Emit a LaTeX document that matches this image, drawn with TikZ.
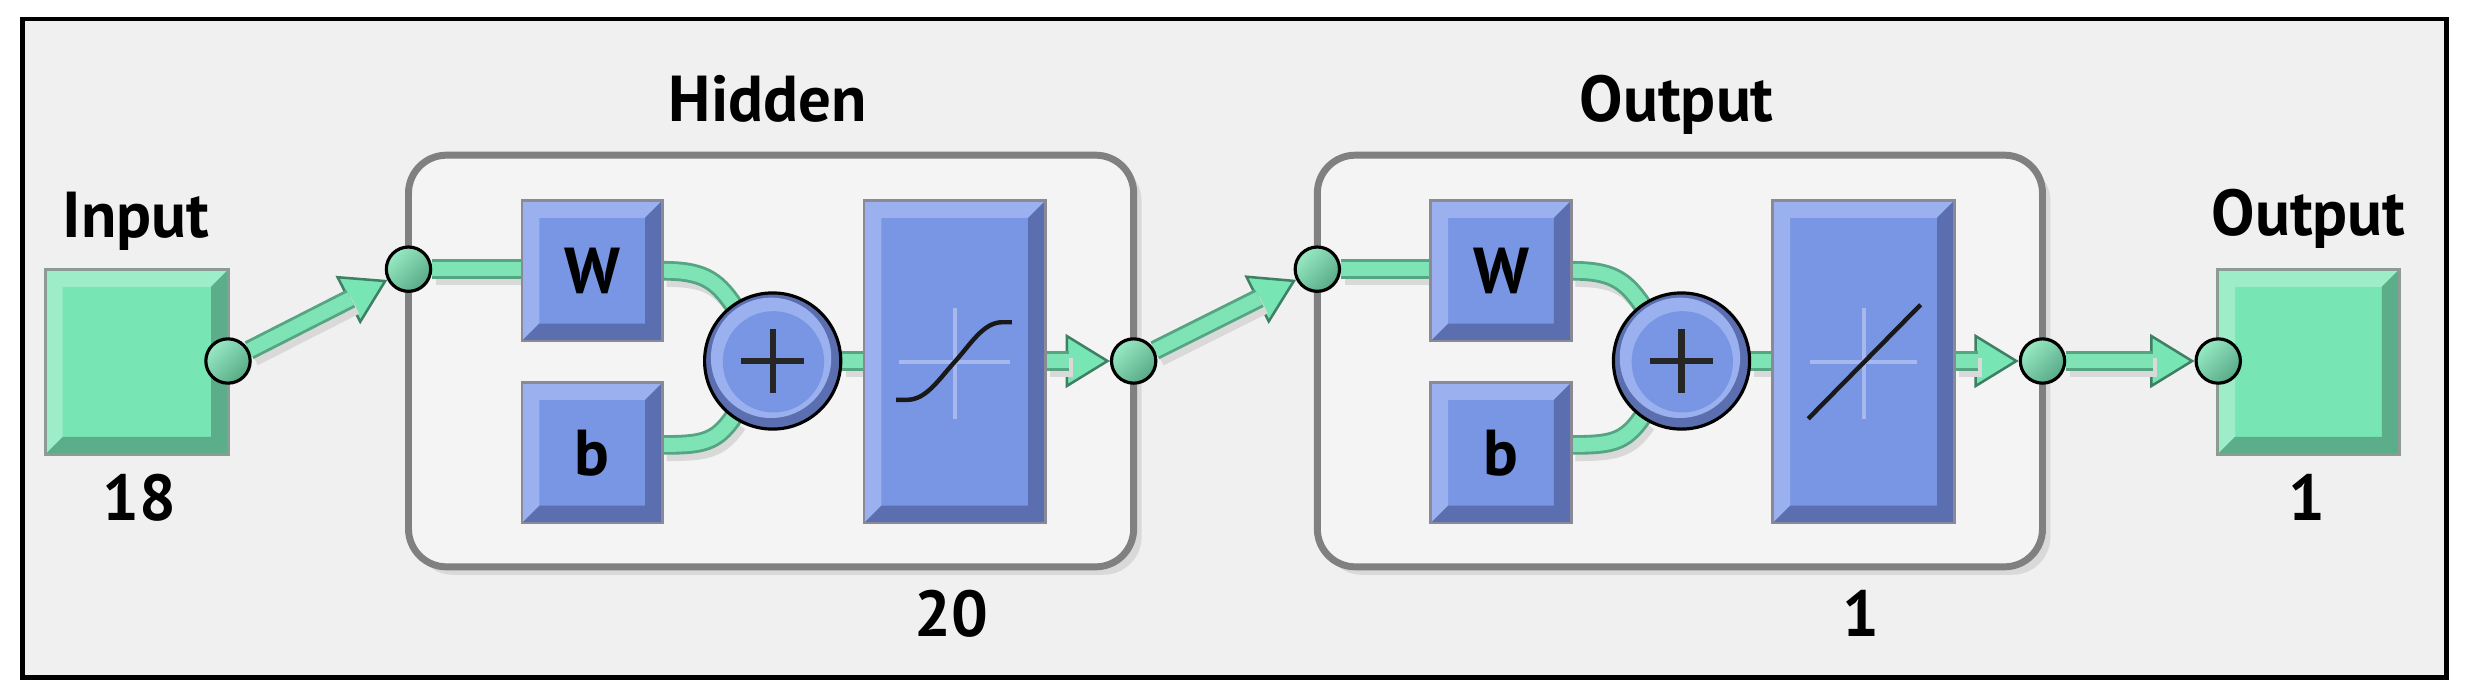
\documentclass[tikz,border=0pt]{standalone}
\usepackage{fontspec}
\setmainfont{PT Sans}
\usetikzlibrary{calc,arrows.meta,shapes.geometric}
\definecolor{bgc}{HTML}{F0F0F0}
\definecolor{layfill}{HTML}{F4F4F4}
\definecolor{layedge}{HTML}{808080}
\definecolor{gbase}{HTML}{78E5B4}
\definecolor{glight}{HTML}{9DEDC8}
\definecolor{gdark}{HTML}{5CAD89}
\definecolor{gedge}{HTML}{8C9C94}
\definecolor{bbase}{HTML}{7896E3}
\definecolor{blight}{HTML}{9BB0EE}
\definecolor{bdark}{HTML}{5B6FB0}
\definecolor{bedge}{HTML}{8A8A96}
\definecolor{bcross}{HTML}{A6B8EE}
\definecolor{wlightc}{HTML}{7EE3B5}
\definecolor{wdarkc}{HTML}{55A482}
\definecolor{tipedge}{HTML}{3F7F63}
\definecolor{portlight}{HTML}{98EAC5}
\definecolor{portdark}{HTML}{58AA86}
\pgfdeclarelayer{back}
\pgfdeclarelayer{bg}
\pgfdeclarelayer{wires}
\pgfsetlayers{back,bg,wires,main}

\newcommand\bevbox[8]{%
  \node[inner sep=0, minimum width=#4*0.5pt, minimum height=#5*0.5pt] (#1) at (#2,#3) {};
  \fill[#6base] (#1.north west) rectangle (#1.south east);
  \fill[#6light] (#1.north west) -- (#1.north east) -- ($(#1.north east)+(-#7,#7)$) -- ($(#1.north west)+(#7,#7)$) -- ($(#1.south west)+(#7,-#7)$) -- (#1.south west) -- cycle;
  \fill[#6dark] (#1.north east) -- (#1.south east) -- (#1.south west) -- ($(#1.south west)+(#7,-#7)$) -- ($(#1.south east)+(-#7,-#7)$) -- ($(#1.north east)+(-#7,#7)$) -- cycle;
  \draw[#6edge, line width=0.8pt] (#1.north west) rectangle (#1.south east);
  \node[lbl] (#1-t) at (#1.center) {#8};
}
\newcommand\sumnode[3]{%
  \node[circle, inner sep=0, minimum size=43pt] (#1) at (#2,#3) {};
  \fill[bdark] (#1.center) circle (21.5pt);
  \fill[blight] ($(#1.center)+(-1,-2)$) circle (19pt);
  \fill[bbase] ($(#1.center)+(0.5,0.5)$) circle (16pt);
  \draw[black, line width=1pt] (#1.center) circle (21.5pt);
  \draw[black!85, line width=2pt] ($(#1.center)+(-20,0)$) -- ($(#1.center)+(20,0)$);
  \draw[black!85, line width=2pt] ($(#1.center)+(0,-20)$) -- ($(#1.center)+(0,20)$);
}
\newcommand\wire[1]{%
  \draw[wshadow] #1;
  \draw[wdark] #1;
  \draw[wlight] #1;}
\newcommand\awire[1]{%
  \draw[wtip] #1;
  \draw[wshadow, shorten >=13pt] #1;
  \draw[wdark, shorten >=13pt] #1;
  \draw[wlight, shorten >=13pt] #1;}

\tikzset{
  lbl/.style={font=\bfseries\fontsize{20.5pt}{24pt}\selectfont, inner sep=0},
  frame/.style={draw=layedge, line width=2.2pt, fill=layfill, rounded corners=12pt, inner sep=0},
  frameshadow/.style={fill=black!15, rounded corners=12pt},
  port/.style={circle, inner sep=0, minimum size=14pt, draw=black, line width=1pt,
    top color=portlight, bottom color=portdark, shading angle=45},
  wshadow/.style={draw=black!15, line width=6.2pt, transform canvas={xshift=1.3pt,yshift=-2pt}},
  wdark/.style={draw=wdarkc, line width=6.2pt},
  wlight/.style={draw=wlightc, line width=4.4pt},
  wtip/.style={draw=tipedge, line width=0.8pt, -{Triangle[length=14pt,width=17pt,fill=gbase]}},
  crossl/.style={draw=bcross, line width=1.3pt},
  tfline/.style={draw=black!90, line width=1.4pt}
}

\begin{document}
\begin{tikzpicture}[x=0.5pt,y=-0.5pt]
\useasboundingbox (0,0) rectangle (1560,440.8);
\begin{pgfonlayer}{back}
  \fill[white] (0,0) rectangle (1560,440.8);
  \draw[fill=bgc, line width=1.5pt] (14,12) rectangle (1545,428);
\end{pgfonlayer}

% layer frames
\begin{pgfonlayer}{bg}
  \fill[frameshadow] (262,103) rectangle (721,363);
  \node[frame, minimum width=229pt, minimum height=130pt] (L1) at (487,228) {};
  \fill[frameshadow] (836,103) rectangle (1295,363);
  \node[frame, minimum width=229pt, minimum height=130pt] (L2) at (1061,228) {};
\end{pgfonlayer}

% input / output boxes
\bevbox{inB}{86.5}{228.5}{115}{116}{g}{11}{}
\bevbox{outB}{1458}{228.5}{114}{116}{g}{11}{}

% hidden layer
\bevbox{W1}{374}{171}{88}{88}{b}{11}{W}
\bevbox{b1}{374}{286}{88}{88}{b}{11}{b}
\sumnode{sum1}{488}{228}
\bevbox{tf1}{603}{228.5}{114}{203}{b}{11}{}
\draw[crossl] ($(tf1.center)+(-35,0)$) -- ($(tf1.center)+(35,0)$);
\draw[crossl] ($(tf1.center)+(0,-34)$) -- ($(tf1.center)+(0,36)$);
\draw[tfline, shift={(tf1.center)}] (-37,24) -- (-30,24) .. controls (-18,24) and (-10,11) .. (0,0) .. controls (10,-11) and (18,-25) .. (30,-25) -- (36,-25);

% output layer
\bevbox{W2}{948}{171}{88}{88}{b}{11}{W}
\bevbox{b2}{948}{286}{88}{88}{b}{11}{b}
\sumnode{sum2}{1062}{228}
\bevbox{tf2}{1177}{228.5}{114}{203}{b}{11}{}
\draw[crossl] ($(tf2.center)+(-34,0)$) -- ($(tf2.center)+(34,0)$);
\draw[crossl] ($(tf2.center)+(0,-34)$) -- ($(tf2.center)+(0,36)$);
\draw[tfline] ($(tf2.center)+(-35,36)$) -- ($(tf2.center)+(36,-36)$);

% ports
\node[port] (inP) at (144,228) {};
\node[port] (hIn) at (258,170) {};
\node[port] (hOut) at (716,228) {};
\node[port] (oIn) at (832,170) {};
\node[port] (oOut) at (1290,228) {};
\node[port] (outP) at (1401,228) {};

% wires
\begin{pgfonlayer}{wires}
  \awire{(inP) -- (hIn)}
  \wire{(hIn) -- (hIn -| W1.west)}
  \wire{(W1.east) .. controls +(25,0) and +(-11,-16) .. (sum1.125)}
  \wire{($(b1.east)+(0,-5)$) .. controls +(25,0) and +(-11,16) .. (sum1.235)}
  \wire{(sum1) -- (sum1 -| tf1.west)}
  \awire{(tf1.east |- hOut) -- (hOut)}
  \awire{(hOut) -- (oIn)}
  \wire{(oIn) -- (oIn -| W2.west)}
  \wire{(W2.east) .. controls +(25,0) and +(-11,-16) .. (sum2.125)}
  \wire{($(b2.east)+(0,-5)$) .. controls +(25,0) and +(-11,16) .. (sum2.235)}
  \wire{(sum2) -- (sum2 -| tf2.west)}
  \awire{(tf2.east |- oOut) -- (oOut)}
  \awire{(oOut) -- (outP)}
\end{pgfonlayer}

% labels
\node[lbl, anchor=base] (lin) at (86,150) {Input};
\node[lbl, anchor=base] (l18) at (88,329) {18};
\node[lbl, anchor=base] (lhid) at (485,77) {Hidden};
\node[lbl, anchor=base] (lout) at (1059,77) {Output};
\node[lbl, anchor=base] (lout2) at (1458,149) {Output};
\node[lbl, anchor=base] (l1b) at (1457,329) {1};
\node[lbl, anchor=base] (l20) at (601,402) {20};
\node[lbl, anchor=base] (l1a) at (1175,402) {1};
\end{tikzpicture}
\end{document}
